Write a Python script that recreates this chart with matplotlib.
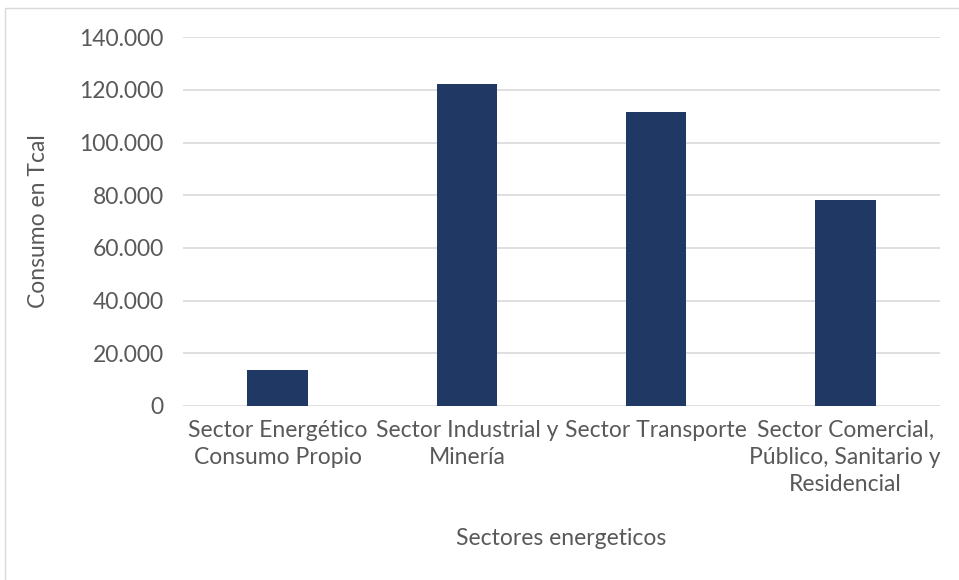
import matplotlib.pyplot as plt
from matplotlib.ticker import FuncFormatter, MultipleLocator
from matplotlib.patches import Rectangle

sectores = ["Sector Energético\nConsumo Propio", "Sector Industrial y\nMinería",
            "Sector Transporte", "Sector Comercial,\nPúblico, Sanitario y\nResidencial"]
consumo = [13700, 122200, 111500, 78100]

plt.rcParams['font.family'] = ['Lato', 'DejaVu Sans']
gris = '#595959'

fig = plt.figure(figsize=(9.59, 5.8), dpi=100)
# borde del area del grafico
fig.patches.append(Rectangle((5 / 959, -0.1), 1.2, (580 - 8) / 580 + 0.1,
                             transform=fig.transFigure, fill=False,
                             edgecolor='#D9D9D9', linewidth=1))

ax = fig.add_axes([0.191, 0.300, 0.789, 0.636])
ax.bar(range(len(sectores)), consumo, width=0.32, color='#203864', zorder=3)

ax.set_ylim(0, 140000)
ax.set_xlim(-0.5, len(sectores) - 0.5)
ax.yaxis.set_major_locator(MultipleLocator(20000))
ax.yaxis.set_major_formatter(FuncFormatter(lambda v, p: f"{int(v):,}".replace(",", ".")))
ax.grid(axis='y', color='#D9D9D9', linewidth=1.2, zorder=0)
for s in ax.spines.values():
    s.set_visible(False)
ax.tick_params(length=0, labelsize=16.5, colors=gris, pad=10)
ax.tick_params(axis='y', pad=14)
ax.set_xticks(range(len(sectores)))
ax.set_xticklabels(sectores, linespacing=1.35)

ax.set_ylabel("Consumo en Tcal", fontsize=16.5, color=gris, labelpad=22)
ax.set_xlabel("Sectores energeticos", fontsize=16.5, color=gris, labelpad=24)

fig.savefig("out.png", dpi=100)
